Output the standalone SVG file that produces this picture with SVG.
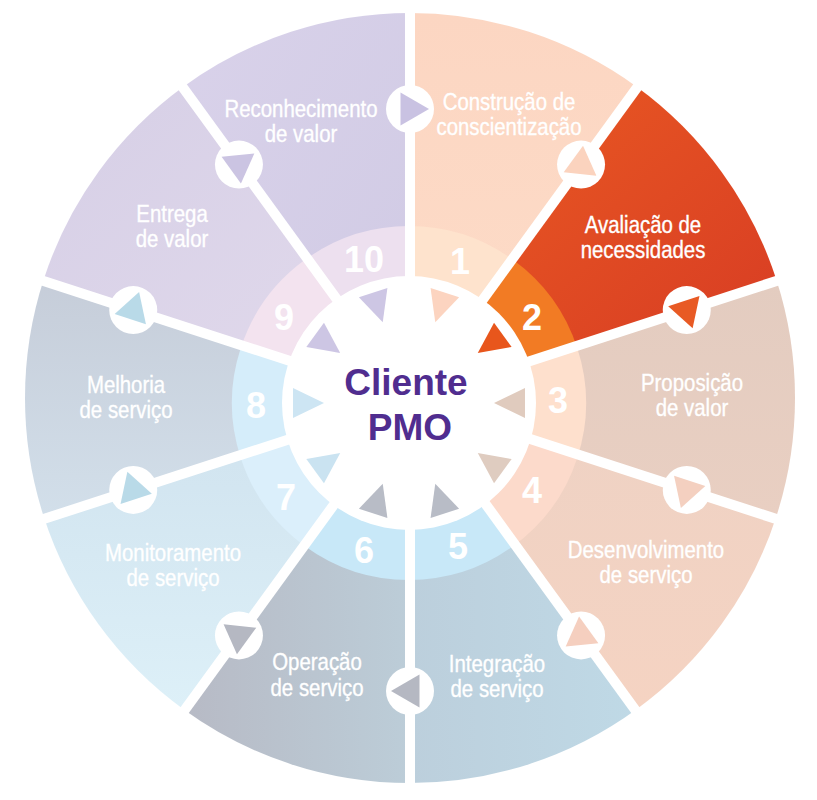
<svg xmlns="http://www.w3.org/2000/svg" width="817" height="800" viewBox="0 0 817 800">
<defs>
<style>
.lbl{font-family:"Liberation Sans",Arial,sans-serif;font-size:24px;fill:#ffffff;stroke:#ffffff;stroke-width:0.35px;text-anchor:middle}
.num{font-family:"Liberation Sans",Arial,sans-serif;font-weight:bold;font-size:36px;fill:#ffffff;text-anchor:middle}
.ctr{font-family:"Liberation Sans",Arial,sans-serif;font-weight:bold;font-size:37px;fill:#502d8f;text-anchor:middle}
.div{stroke:#ffffff;stroke-width:10;fill:none}
.knob{fill:#ffffff}
</style>
<linearGradient id="g1" x1="0" y1="0" x2="0" y2="1"><stop offset="0" stop-color="#fcd6c2"/><stop offset="1" stop-color="#fddcc8"/></linearGradient>
<linearGradient id="g2" x1="0" y1="0" x2="1" y2="1"><stop offset="0" stop-color="#eb5c22"/><stop offset="1" stop-color="#d63a24"/></linearGradient>
<linearGradient id="g3" x1="0" y1="0" x2="0" y2="1"><stop offset="0" stop-color="#e3ccc0"/><stop offset="1" stop-color="#e9cfc2"/></linearGradient>
<linearGradient id="g4" x1="0" y1="0" x2="0" y2="1"><stop offset="0" stop-color="#eed2c4"/><stop offset="1" stop-color="#f5d3c2"/></linearGradient>
<linearGradient id="g5" x1="0" y1="0" x2="1" y2="0"><stop offset="0" stop-color="#bccfdc"/><stop offset="1" stop-color="#bfd9e6"/></linearGradient>
<linearGradient id="g6" x1="0" y1="0" x2="1" y2="0"><stop offset="0" stop-color="#b7bac5"/><stop offset="1" stop-color="#bccdd8"/></linearGradient>
<linearGradient id="g7" x1="0" y1="0" x2="0" y2="1"><stop offset="0" stop-color="#cfe2ee"/><stop offset="1" stop-color="#ddf0f8"/></linearGradient>
<linearGradient id="g8" x1="0" y1="0" x2="0" y2="1"><stop offset="0" stop-color="#c6cdd9"/><stop offset="1" stop-color="#d2dfea"/></linearGradient>
<linearGradient id="g9" x1="0" y1="0" x2="1" y2="1"><stop offset="0" stop-color="#d6cfe6"/><stop offset="1" stop-color="#e2daec"/></linearGradient>
<linearGradient id="g10" x1="0" y1="0" x2="1" y2="1"><stop offset="0" stop-color="#d9d2ea"/><stop offset="1" stop-color="#d0cae4"/></linearGradient>
<polygon id="arr" points="19,0 -9.5,-16.45 -9.5,16.45"/>
<polygon id="itri" points="-15.5,0 15.5,-15 15.5,15"/>
</defs>

<g id="seg1">
<path d="M410,398 L410,13 A385,385 0 0 1 636.30,86.53 Z" fill="url(#g1)"/>
<path d="M409,403 L409,226 A177,177 0 0 1 513.04,259.80 Z" fill="#fee3cd"/>
<text class="num" x="460" y="274">1</text>
<text class="lbl" transform="translate(509 110) scale(0.85 1)" x="0" y="0">Construção de<tspan x="0" dy="25">conscientização</tspan></text>
</g>
<g id="seg2">
<path d="M410,398 L636.30,86.53 A385,385 0 0 1 776.16,279.03 Z" fill="url(#g2)"/>
<path d="M409,403 L513.04,259.80 A177,177 0 0 1 577.34,348.30 Z" fill="#f27b24"/>
<text class="num" x="532" y="330">2</text>
<text class="lbl" transform="translate(643 233) scale(0.85 1)" x="0" y="0">Avaliação de<tspan x="0" dy="25">necessidades</tspan></text>
</g>
<g id="seg3">
<path d="M410,398 L776.16,279.03 A385,385 0 0 1 776.16,516.97 Z" fill="url(#g3)"/>
<path d="M409,403 L577.34,348.30 A177,177 0 0 1 577.34,457.70 Z" fill="#fee0cd"/>
<text class="num" x="558" y="413">3</text>
<text class="lbl" transform="translate(692 391) scale(0.85 1)" x="0" y="0">Proposição<tspan x="0" dy="25">de valor</tspan></text>
</g>
<g id="seg4">
<path d="M410,398 L776.16,516.97 A385,385 0 0 1 636.30,709.47 Z" fill="url(#g4)"/>
<path d="M409,403 L577.34,457.70 A177,177 0 0 1 513.04,546.20 Z" fill="#fcdacb"/>
<text class="num" x="532" y="503">4</text>
<text class="lbl" transform="translate(646 558) scale(0.85 1)" x="0" y="0">Desenvolvimento<tspan x="0" dy="25">de serviço</tspan></text>
</g>
<g id="seg5">
<path d="M410,398 L636.30,709.47 A385,385 0 0 1 410,783 Z" fill="url(#g5)"/>
<path d="M409,403 L513.04,546.20 A177,177 0 0 1 409,580 Z" fill="#c8e8f8"/>
<text class="num" x="458" y="559">5</text>
<text class="lbl" transform="translate(497 672) scale(0.85 1)" x="0" y="0">Integração<tspan x="0" dy="25">de serviço</tspan></text>
</g>
<g id="seg6">
<path d="M410,398 L410,783 A385,385 0 0 1 183.70,709.47 Z" fill="url(#g6)"/>
<path d="M409,403 L409,580 A177,177 0 0 1 304.96,546.20 Z" fill="#c8e8f8"/>
<text class="num" x="364" y="563">6</text>
<text class="lbl" transform="translate(317 670) scale(0.85 1)" x="0" y="0">Operação<tspan x="0" dy="26">de serviço</tspan></text>
</g>
<g id="seg7">
<path d="M410,398 L183.70,709.47 A385,385 0 0 1 43.84,516.97 Z" fill="url(#g7)"/>
<path d="M409,403 L304.96,546.20 A177,177 0 0 1 240.66,457.70 Z" fill="#dbeffb"/>
<text class="num" x="286" y="510">7</text>
<text class="lbl" transform="translate(173 561) scale(0.85 1)" x="0" y="0">Monitoramento<tspan x="0" dy="25">de serviço</tspan></text>
</g>
<g id="seg8">
<path d="M410,398 L43.84,516.97 A385,385 0 0 1 43.84,279.03 Z" fill="url(#g8)"/>
<path d="M409,403 L240.66,457.70 A177,177 0 0 1 240.66,348.30 Z" fill="#d5edfa"/>
<text class="num" x="256" y="418">8</text>
<text class="lbl" transform="translate(126 393) scale(0.85 1)" x="0" y="0">Melhoria<tspan x="0" dy="25">de serviço</tspan></text>
</g>
<g id="seg9">
<path d="M410,398 L43.84,279.03 A385,385 0 0 1 183.70,86.53 Z" fill="url(#g9)"/>
<path d="M409,403 L240.66,348.30 A177,177 0 0 1 304.96,259.80 Z" fill="#f3e3ef"/>
<text class="num" x="284" y="330">9</text>
<text class="lbl" transform="translate(172 222) scale(0.85 1)" x="0" y="0">Entrega<tspan x="0" dy="25">de valor</tspan></text>
</g>
<g id="seg10">
<path d="M410,398 L183.70,86.53 A385,385 0 0 1 410,13 Z" fill="url(#g10)"/>
<path d="M409,403 L304.96,259.80 A177,177 0 0 1 409,226 Z" fill="#ede0ef"/>
<text class="num" x="364" y="272">10</text>
<text class="lbl" transform="translate(301 117) scale(0.85 1)" x="0" y="0">Reconhecimento<tspan x="0" dy="25">de valor</tspan></text>
</g>

<g id="connectors">
<g class="div">
<line x1="410" y1="400" x2="410" y2="5"/>
<line x1="410" y1="400" x2="642.18" y2="80.44"/>
<line x1="410" y1="400" x2="785.67" y2="277.94"/>
<line x1="410" y1="400" x2="785.67" y2="522.06"/>
<line x1="410" y1="400" x2="642.18" y2="719.56"/>
<line x1="410" y1="400" x2="410" y2="795"/>
<line x1="410" y1="400" x2="177.82" y2="719.56"/>
<line x1="410" y1="400" x2="34.33" y2="522.06"/>
<line x1="410" y1="400" x2="34.33" y2="277.94"/>
<line x1="410" y1="400" x2="177.82" y2="80.44"/>
</g>
<g class="knob">
<circle cx="410" cy="109" r="24"/>
<circle cx="581.05" cy="164.58" r="24"/>
<circle cx="686.76" cy="310.08" r="24"/>
<circle cx="686.76" cy="489.92" r="24"/>
<circle cx="581.05" cy="635.42" r="24"/>
<circle cx="410" cy="691" r="24"/>
<circle cx="238.95" cy="635.42" r="24"/>
<circle cx="133.24" cy="489.92" r="24"/>
<circle cx="133.24" cy="310.08" r="24"/>
<circle cx="238.95" cy="164.58" r="24"/>
</g>
<use href="#arr" transform="translate(410,109) rotate(0)" fill="#c9c2e2"/>
<use href="#arr" transform="translate(581.05,164.58) rotate(36)" fill="#fbd3be"/>
<use href="#arr" transform="translate(686.76,310.08) rotate(72)" fill="#e85a24"/>
<use href="#arr" transform="translate(686.76,489.92) rotate(108)" fill="#f4d0c0"/>
<use href="#arr" transform="translate(581.05,635.42) rotate(144)" fill="#f5cfbf"/>
<use href="#arr" transform="translate(410,691) rotate(180)" fill="#b5b8c2"/>
<use href="#arr" transform="translate(238.95,635.42) rotate(216)" fill="#b5b8c2"/>
<use href="#arr" transform="translate(133.24,489.92) rotate(252)" fill="#b9dae8"/>
<use href="#arr" transform="translate(133.24,310.08) rotate(288)" fill="#b9dae8"/>
<use href="#arr" transform="translate(238.95,164.58) rotate(324)" fill="#cbc4e2"/>
</g>

<g id="center">
<circle cx="409" cy="403" r="127" fill="#ffffff"/>
<use href="#itri" transform="translate(377.94,307.42) rotate(-108)" fill="#cdc6e4"/>
<use href="#itri" transform="translate(440.06,307.42) rotate(-72)" fill="#fcd4c0"/>
<use href="#itri" transform="translate(490.31,343.93) rotate(-36)" fill="#e8561c"/>
<use href="#itri" transform="translate(509.5,403) rotate(0)" fill="#e0cbbe"/>
<use href="#itri" transform="translate(490.31,462.07) rotate(36)" fill="#dfccc0"/>
<use href="#itri" transform="translate(440.06,498.58) rotate(72)" fill="#b8bcc6"/>
<use href="#itri" transform="translate(377.94,498.58) rotate(108)" fill="#b8bcc6"/>
<use href="#itri" transform="translate(327.69,462.07) rotate(144)" fill="#cae3f1"/>
<use href="#itri" transform="translate(308.5,403) rotate(180)" fill="#cde5f3"/>
<use href="#itri" transform="translate(327.69,343.93) rotate(216)" fill="#cdc6e4"/>
<text class="ctr" x="406" y="395">Cliente</text>
<text class="ctr" x="410" y="440">PMO</text>
</g>
</svg>
